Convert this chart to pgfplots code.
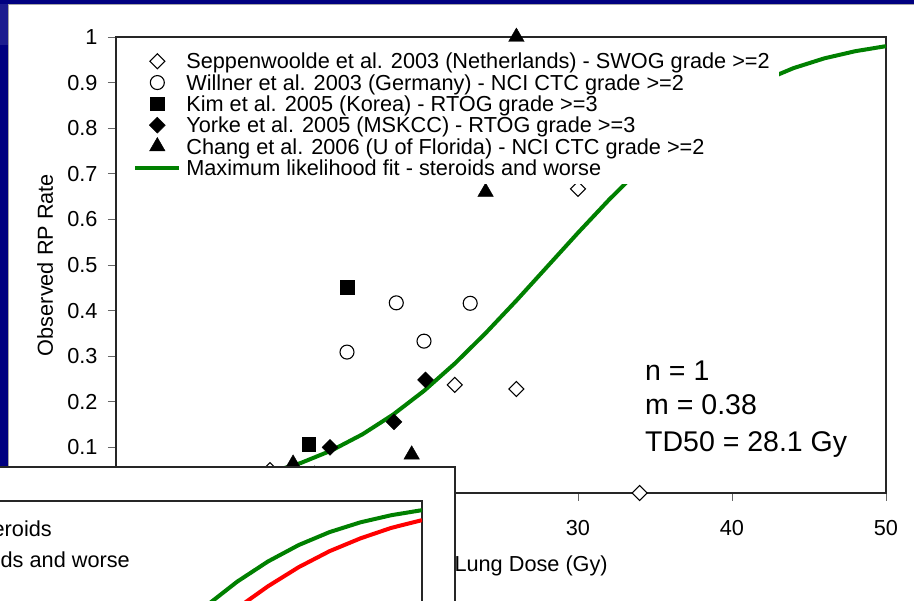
\documentclass[border=0pt]{standalone}
\usepackage{pgfplots}
\pgfplotsset{compat=1.18}
\usepackage{fontspec}
\setmainfont{Liberation Sans}
\definecolor{navy}{RGB}{0,0,128}
\definecolor{navylt}{RGB}{28,28,143}
\definecolor{fitgreen}{RGB}{0,128,0}
\definecolor{fitred}{RGB}{255,0,0}
\pgfdeclareplotmark{dia}{%
  \pgfpathmoveto{\pgfqpoint{0pt}{\pgfplotmarksize}}%
  \pgfpathlineto{\pgfqpoint{\pgfplotmarksize}{0pt}}%
  \pgfpathlineto{\pgfqpoint{0pt}{-\pgfplotmarksize}}%
  \pgfpathlineto{\pgfqpoint{-\pgfplotmarksize}{0pt}}%
  \pgfpathclose\pgfusepathqfillstroke}
\pgfdeclareplotmark{tri}{%
  \pgfpathmoveto{\pgfqpointpolar{90}{\pgfplotmarksize}}%
  \pgfpathlineto{\pgfqpointpolar{210}{\pgfplotmarksize}}%
  \pgfpathlineto{\pgfqpointpolar{330}{\pgfplotmarksize}}%
  \pgfpathclose\pgfusepathqfillstroke}
\newcommand\fsz{\fontsize{21.7}{24}\selectfont}
\newcommand\fbz{\fontsize{28.5}{34}\selectfont}

\pgfplotstableread{
x y
0 0.0043
2 0.0073
4 0.0120
6 0.0192
8 0.0299
10 0.0450
12 0.0658
14 0.0933
16 0.1286
18 0.1721
20 0.2240
22 0.2839
24 0.3505
26 0.4220
28 0.4963
30 0.5706
32 0.6425
34 0.7097
36 0.7703
38 0.8231
40 0.8674
42 0.9035
44 0.9318
46 0.9532
48 0.9688
50 0.9799
}\greentab
\pgfplotstableread{
x y
0 0.0068
2 0.0108
4 0.0166
6 0.0248
8 0.0363
10 0.0518
12 0.0722
14 0.0982
16 0.1305
18 0.1695
20 0.2151
22 0.2673
24 0.3253
26 0.3878
28 0.4534
30 0.5200
32 0.5860
34 0.6500
36 0.7100
38 0.7650
40 0.8130
42 0.8550
44 0.8900
46 0.9180
48 0.9410
50 0.9580
}\redtab

\begin{document}
\begin{tikzpicture}
\useasboundingbox (0,0) rectangle (914pt,601pt);
\clip (0,0) rectangle (914pt,601pt);
\begin{scope}
\fill[white] (0,0) rectangle (914pt,601pt);
\fill[navy] (0,597pt) rectangle (914pt,601pt);
\fill[navy] (0,0) rectangle (8pt,597pt);
\fill[navylt] (0,556pt) rectangle (8pt,597pt);
\draw[gray!70, line width=0.8pt] (8pt,0) -- (8pt,597pt) -- (914pt,597pt);
\end{scope}

\begin{axis}[
  at={(116pt,108pt)}, anchor=south west,
  width=770pt, height=456pt, scale only axis,
  xmin=0, xmax=50, ymin=0, ymax=1,
  clip=false,
  xtick={0,10,20,30,40,50},
  ytick={0,0.1,0.2,0.3,0.4,0.5,0.6,0.7,0.8,0.9,1},
  xtick pos=bottom, ytick pos=left, tick align=outside,
  major tick length=8pt,
  tick style={line width=0.8pt, black!60},
  axis line style={line width=1.4pt, black!85},
  tick label style={font=\fsz},
  xticklabel style={yshift=-16pt},
  yticklabel style={xshift=-7pt},
  /pgf/number format/assume math mode=true,
  xlabel={Mean Lung Dose (Gy)}, ylabel={Observed RP Rate},
  every axis x label/.style={at={(axis description cs:0.5,0)}, yshift=-79pt, anchor=base, font=\fsz},
  every axis y label/.style={at={(axis description cs:0,0.5)}, xshift=-63pt, rotate=90, anchor=base, font=\fsz},
  legend style={at={(0.861,0.6776)}, anchor=south east, fill=white, draw=none,
    inner xsep=9pt, inner ysep=5.4pt, row sep=0pt, column sep=5pt, font=\fsz,
    nodes={inner sep=0pt, text height=18.35pt, text depth=2.95pt}},
  legend cell align=left,
  legend image code/.code={\draw[mark repeat=2,mark phase=2,#1] plot coordinates {(0pt,0pt) (22pt,0pt) (44pt,0pt)};},
]
\addplot[fitgreen, line width=4pt, forget plot] table {\greentab};
\addplot[only marks, mark=dia, mark size=7.5pt, mark options={fill=white, draw=black, line width=1.1pt}]
  coordinates {(10,0.05) (22,0.237) (26,0.228) (30,0.667) (34,0)};
\addlegendentry{Seppenwoolde et al. 2003 (Netherlands) - SWOG grade >=2}
\addplot[only marks, mark=*, mark size=7pt, mark options={fill=white, draw=black, line width=1.1pt}]
  coordinates {(15,0.309) (18.2,0.417) (20,0.333) (23,0.416)};
\addlegendentry{Willner et al. 2003 (Germany) - NCI CTC grade >=2}
\addplot[only marks, mark=square*, mark size=6.7pt, mark options={fill=black, draw=black}]
  coordinates {(15,0.451) (12.5,0.107)};
\addlegendentry{Kim et al. 2005 (Korea) - RTOG grade >=3}
\addplot[only marks, mark=dia, mark size=8pt, mark options={fill=black, draw=black}]
  coordinates {(13.9,0.10) (18.05,0.156) (20.1,0.248)};
\addlegendentry{Yorke et al. 2005 (MSKCC) - RTOG grade >=3}
\addplot[only marks, mark=tri, mark size=9pt, mark options={fill=black, draw=black}]
  coordinates {(26,1.0) (24,0.66) (19.2,0.084) (11.5,0.064) (12.9,0.04)};
\addlegendentry{Chang et al. 2006 (U of Florida) - NCI CTC grade >=2}
\addlegendimage{fitgreen, line width=4pt}
\addlegendentry{Maximum likelihood fit - steroids and worse}
\end{axis}

\node[anchor=base west, font=\fbz, inner sep=0pt] at (645pt,220pt) {n = 1};
\node[anchor=base west, font=\fbz, inner sep=0pt] at (645pt,186pt) {m = 0.38};
\node[anchor=base west, font=\fbz, inner sep=0pt] at (645pt,149pt) {TD50 = 28.1 Gy};

% inset (another chart pasted over the lower left)
\filldraw[fill=white, draw=black!85, line width=1.3pt] (-10pt,-10pt) rectangle (455pt,134pt);
\begin{axis}[
  at={(422pt,100pt)}, anchor=north east,
  width=770pt, height=456pt, scale only axis,
  xmin=0, xmax=50, ymin=0, ymax=1,
  ticks=none,
  axis line style={line width=1.3pt, black!85},
]
\addplot[fitgreen, line width=4pt] table {\greentab};
\addplot[fitred, line width=4pt] table {\redtab};
\end{axis}
\node[anchor=base east, font=\fsz, inner sep=0pt] at (52pt,64pt) {Maximum likelihood fit - steroids};
\node[anchor=base east, font=\fsz, inner sep=0pt] at (130pt,33pt) {Maximum likelihood fit - steroids and worse};
\end{tikzpicture}
\end{document}
